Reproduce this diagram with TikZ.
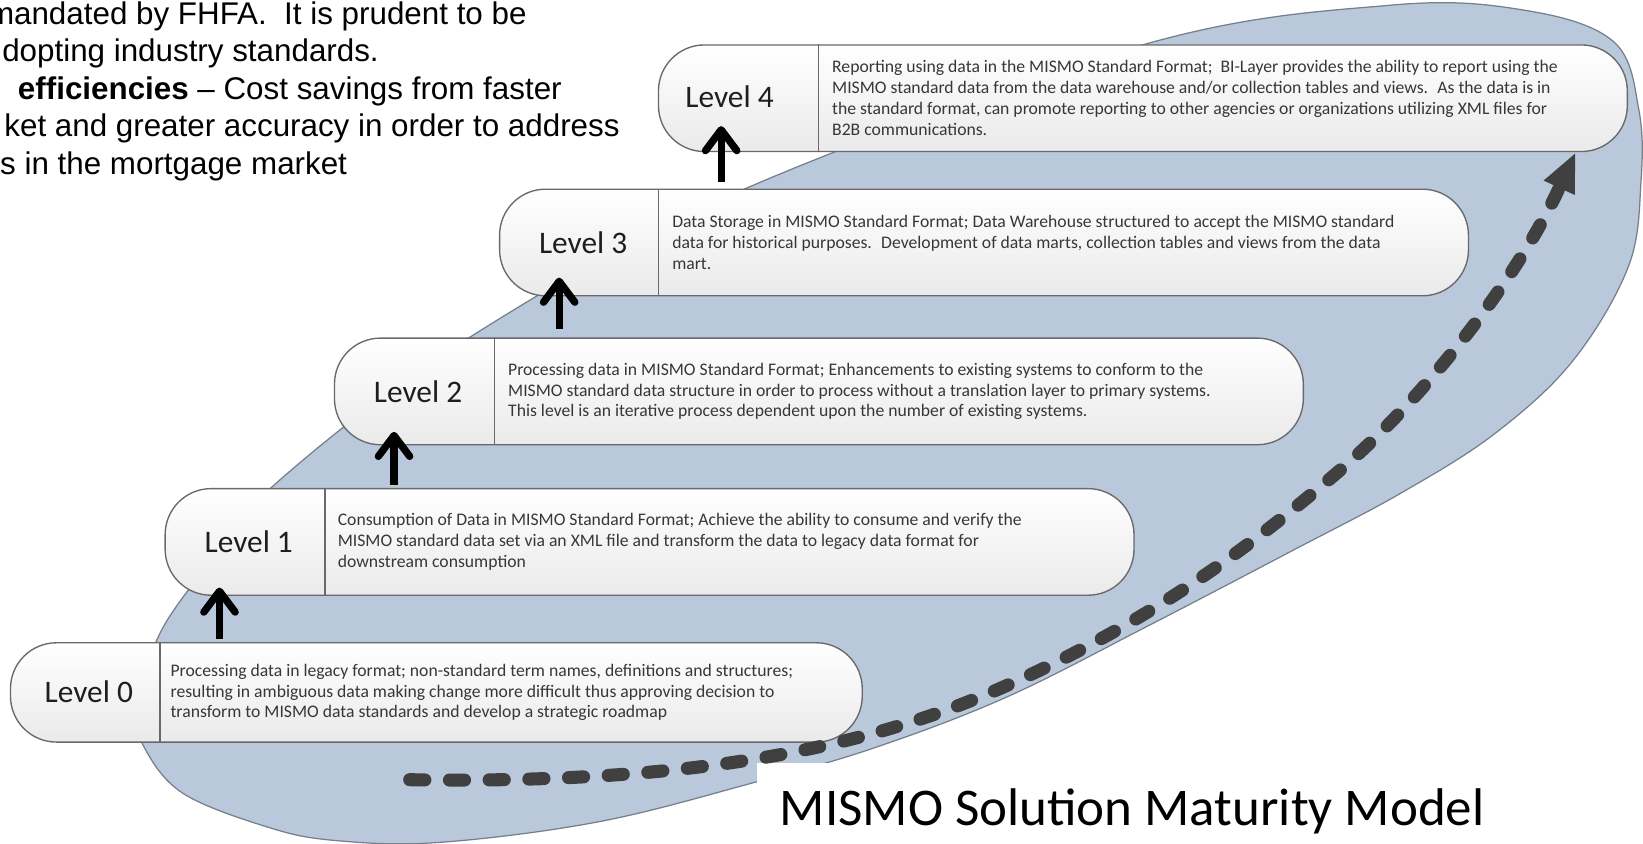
\documentclass[tikz,border=0pt]{standalone}
\usepackage{fontspec}
\setmainfont{Carlito}
\newfontfamily\arialf{Liberation Sans}
\usetikzlibrary{arrows.meta,calc}
\definecolor{blobfill}{RGB}{185,201,219}
\definecolor{blobline}{RGB}{118,128,140}
\definecolor{boxline}{RGB}{105,105,105}
\definecolor{boxbot}{RGB}{234,234,234}
\definecolor{txtc}{RGB}{55,55,55}
\definecolor{lblc}{RGB}{30,30,30}
\definecolor{dashc}{RGB}{64,64,64}
\begin{document}
\begin{tikzpicture}[x=1pt,y=-1pt,
  levelbox/.style={draw=boxline,line width=1.3pt,rounded corners=44pt,top color=white,bottom color=boxbot,minimum width=927pt,minimum height=102pt,inner sep=0pt},
  divider/.style={draw=boxline,line width=1.3pt},
  lvl/.style={font=\fontsize{30}{36}\selectfont,text=lblc,inner sep=0pt},
  desc/.style={font=\fontsize{16.9}{20}\selectfont,text=txtc,align=left,inner sep=0pt,anchor=west},
  uparrow/.style={line width=7pt,black,-{Straight Barb[length=20pt,width=30pt,round]}},
  dashpath/.style={line width=12.5pt,dashc,line cap=round,dash pattern=on 14.5pt off 23.5pt,-{Triangle[length=36pt,width=33pt,line width=0pt]}},
  slide/.style={font=\arialf\fontsize{30}{36}\selectfont,inner sep=0pt,anchor=base west}
]
\useasboundingbox (0,0) rectangle (1572,807);
% background blob
\path[fill=blobfill,draw=blobline,line width=1.2pt] plot[smooth cycle,tension=0.6] coordinates {
 (132,680) (148,617) (182,562) (259,467) (449,323) (712,181) (1093,43) (1330,5) (1460,10)
 (1544,40) (1568,105) (1570,175) (1558,255) (1505,345) (1430,415) (1340,472) (1240,525)
 (1100,598) (963,667) (835,716) (724,748) (574,786) (420,806) (319,804) (255,791) (175,759) (138,715)};
% title background
\fill[white] (724,730) rectangle (1580,815);
% slide text at top left
\node[slide,anchor=base east] (s1) at (504,23) {mandated by FHFA.~ It is prudent to be};
\node[slide] (s2) at (2,59) {dopting industry standards.};
\node[slide] (s3) at (17,95) {\textbf{efficiencies} – Cost savings from faster};
\node[slide] (s4) at (4,131) {ket and greater accuracy in order to address};
\node[slide] (s5) at (0,167) {s in the mortgage market};
% level boxes
\node[levelbox] (L4) at (1093.5,94) {};
\node[levelbox] (L3) at (941.5,232) {};
\node[levelbox] (L2) at (783.5,374.5) {};
\node[levelbox] (L1) at (621.5,518.5) {};
\node[levelbox,minimum width=815pt,minimum height=95pt] (L0) at (417.5,662.5) {};
\coordinate (d4) at (783,0);
\coordinate (d3) at (630,0);
\coordinate (d2) at (473,0);
\coordinate (d1) at (311,0);
\coordinate (d0) at (153,0);
\foreach \k in {0,...,4} {\draw[divider] (d\k |- L\k.north) -- (d\k |- L\k.south);}
% labels
\node[lvl] (t4) at (698,93) {Level 4};
\node[lvl] (t3) at (558,232) {Level 3};
\node[lvl] (t2) at (400,375) {Level 2};
\node[lvl] (t1) at (238,518) {Level 1};
\node[lvl] (t0) at (85,662) {Level 0};
% descriptions
\node[desc] (x4) at ($(d4 |- L4.center)+(13,0)$) {Reporting using data in the MISMO Standard Format;~ BI-Layer provides the ability to report using the\\MISMO standard data from the data warehouse and/or collection tables and views.~ As the data is in\\the standard format, can promote reporting to other agencies or organizations utilizing XML files for\\B2B communications.};
\node[desc] (x3) at ($(d3 |- L3.center)+(13,0)$) {Data Storage in MISMO Standard Format; Data Warehouse structured to accept the MISMO standard\\data for historical purposes.~ Development of data marts, collection tables and views from the data\\mart.};
\node[desc] (x2) at ($(d2 |- L2.center)+(13,0)$) {Processing data in MISMO Standard Format; Enhancements to existing systems to conform to the\\MISMO standard data structure in order to process without a translation layer to primary systems.\\This level is an iterative process dependent upon the number of existing systems.};
\node[desc] (x1) at ($(d1 |- L1.center)+(12,0)$) {Consumption of Data in MISMO Standard Format; Achieve the ability to consume and verify the\\MISMO standard data set via an XML file and transform the data to legacy data format for\\downstream consumption};
\node[desc] (x0) at ($(d0 |- L0.center)+(10,0)$) {Processing data in legacy format; non-standard term names, definitions and structures;\\resulting in ambiguous data making change more difficult thus approving decision to\\transform to MISMO data standards and develop a strategic roadmap};
% dashed progress arrow
\coordinate (ds) at (392,746);
\coordinate (de) at (1507,147);
\draw[dashpath] (ds) .. controls (650,750) and (820,720) .. (963,656)
  .. controls (1106,592) and (1200,520) .. (1282,450)
  .. controls (1360,383) and (1450,270) .. (de);
% up arrows between levels
\coordinate (a1) at (210,0);
\coordinate (a2) at (377,0);
\coordinate (a3) at (535,0);
\coordinate (a4) at (690,0);
\draw[uparrow] ($(a1 |- L0.north)+(0,-3)$) -- ($(a1 |- L1.south)+(0,-8)$);
\draw[uparrow] ($(a2 |- L1.north)+(0,-3)$) -- ($(a2 |- L2.south)+(0,-13)$);
\draw[uparrow] ($(a3 |- L2.north)+(0,-8)$) -- ($(a3 |- L3.south)+(0,-18)$);
\draw[uparrow] ($(a4 |- L3.north)+(0,-6)$) -- ($(a4 |- L4.south)+(0,-25)$);
% title
\node[anchor=base west,inner sep=0pt,font=\fontsize{50.7}{60}\selectfont] (title) at (746,790) {MISMO Solution Maturity Model};
\end{tikzpicture}
\end{document}
